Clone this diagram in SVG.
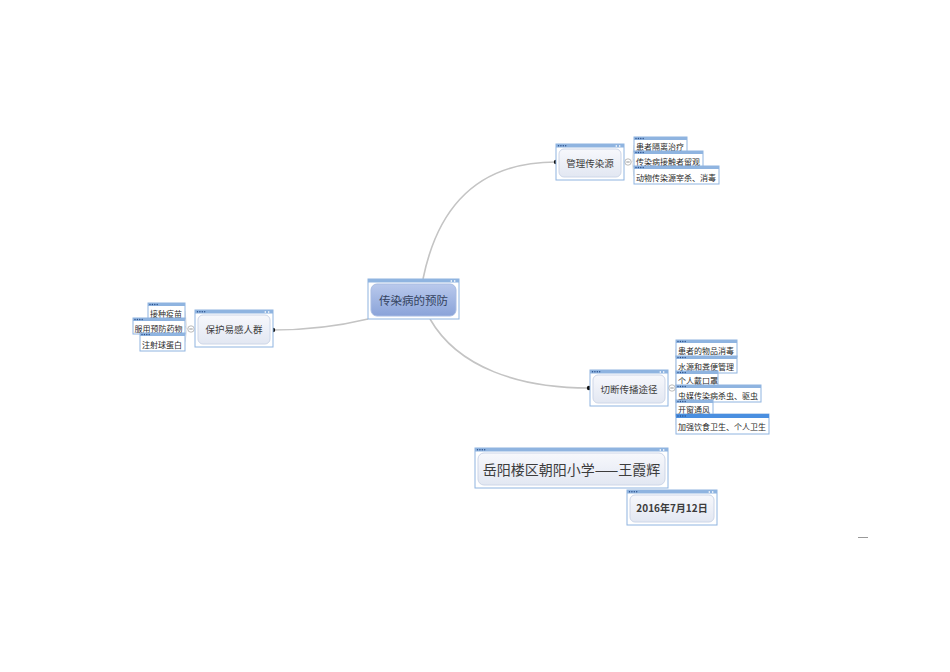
<svg xmlns="http://www.w3.org/2000/svg" width="950" height="672" viewBox="0 0 950 672">
<defs>
<linearGradient id="gMain" x1="0" y1="0" x2="0" y2="1">
<stop offset="0" stop-color="#b9c9ec"/><stop offset="1" stop-color="#8aa3d9"/>
</linearGradient>
<linearGradient id="gSub" x1="0" y1="0" x2="0" y2="1">
<stop offset="0" stop-color="#f7f8fc"/><stop offset="1" stop-color="#e2e7f2"/>
</linearGradient>
<g id="dots"><circle cx="0" cy="0" r="0.7"/><circle cx="2.4" cy="0" r="0.7"/><circle cx="4.8" cy="0" r="0.7"/><circle cx="7.2" cy="0" r="0.7"/></g>
</defs>
<style>
.frame{fill:#ffffff;stroke:#8fb4e0;stroke-width:1}
.bar{fill:#8fb4e0}
.barH{fill:#4a8fe0}
.dots{fill:#2a4f8a}
.arr{fill:#ffffff}
.inMain{fill:url(#gMain);stroke:#a7bbe2;stroke-width:1}
.inSub{fill:url(#gSub);stroke:#cdd6e8;stroke-width:1}
.conn{fill:none;stroke:#c4c4c4;stroke-width:1.6}
.sub{fill:none;stroke:#dddddd;stroke-width:0.8}
.t{font-family:"Noto Sans CJK SC","Liberation Sans",sans-serif;fill:#3c3c3c}
.tm{font-family:"Noto Sans CJK SC","Liberation Sans",sans-serif;fill:#34435f}
.ct{font-family:"Noto Sans CJK SC","Liberation Sans",sans-serif;fill:#2a2a2a;font-size:8px}
.tog{fill:#ffffff;stroke:#aaaaaa;stroke-width:0.8}
</style>
<rect width="950" height="672" fill="#ffffff"/>

<g id="connectors">
<path class="conn" d="M423 279 C438 205 480 162 556 162"/>
<path class="conn" d="M430 319 C458 368 520 388 589 388"/>
<path class="conn" d="M368 319 C335 327 305 330 273 330"/>
<circle cx="556" cy="162" r="2.2" fill="#111"/>
<circle cx="589" cy="388" r="2.2" fill="#111"/>
<circle cx="273" cy="330" r="2.2" fill="#111"/>
<path class="sub" d="M632 162 L634 145 M632 162 L634 159 M632 162 L634 176"/>
<path class="sub" d="M187 329 L185 311 M187 329 L185 326 M187 329 L185 342"/>
<path class="sub" d="M676 388 L676 349 M676 388 L676 365 M676 388 L676 379 M676 388 L676 394 M676 388 L676 408 M676 388 L676 425"/>
<circle class="tog" cx="628" cy="162" r="3.2"/><line x1="626.3" y1="162" x2="629.7" y2="162" stroke="#666" stroke-width="0.7"/>
<circle class="tog" cx="191" cy="329" r="3.2"/><line x1="189.3" y1="329" x2="192.7" y2="329" stroke="#666" stroke-width="0.7"/>
<circle class="tog" cx="672" cy="388" r="3.2"/><line x1="670.3" y1="388" x2="673.7" y2="388" stroke="#666" stroke-width="0.7"/>
</g>

<g id="central">
<rect class="frame" x="368" y="279" width="91" height="40"/>
<rect class="bar" x="368" y="279" width="91" height="3.5"/>
<path class="arr" d="M452 280 L450 281 L452 282Z M454 280 L456 281 L454 282Z"/>
<rect class="inMain" x="371" y="284" width="85" height="32" rx="6"/>
<text class="tm" x="413.5" y="304.5" font-size="11.5" text-anchor="middle">传染病的预防</text>
</g>

<g id="n-manage">
<rect class="frame" x="556" y="144" width="68" height="36"/>
<rect class="bar" x="556" y="144" width="68" height="3.5"/>
<use href="#dots" class="dots" x="558.5" y="145.7"/>
<path class="arr" d="M617 145 L615 146 L617 147Z M619 145 L621 146 L619 147Z"/>
<rect class="inSub" x="559" y="149" width="62" height="28" rx="5"/>
<text class="t" x="590" y="166.5" font-size="9.5" text-anchor="middle">管理传染源</text>
</g>

<g id="n-protect">
<rect class="frame" x="195" y="310" width="78" height="37"/>
<rect class="bar" x="195" y="310" width="78" height="3.5"/>
<use href="#dots" class="dots" x="197.5" y="311.7"/>
<path class="arr" d="M266 311 L264 312 L266 313Z M268 311 L270 312 L268 313Z"/>
<rect class="inSub" x="198" y="315" width="72" height="29" rx="5"/>
<text class="t" x="234" y="333" font-size="9.5" text-anchor="middle">保护易感人群</text>
</g>

<g id="n-cut">
<rect class="frame" x="590" y="370" width="78" height="36"/>
<rect class="bar" x="590" y="370" width="78" height="3.5"/>
<use href="#dots" class="dots" x="592.5" y="371.7"/>
<path class="arr" d="M661 371 L659 372 L661 373Z M663 371 L665 372 L663 373Z"/>
<rect class="inSub" x="593" y="375" width="72" height="28" rx="5"/>
<text class="t" x="629" y="392.5" font-size="9.5" text-anchor="middle">切断传播途径</text>
</g>

<g id="n-author">
<rect class="frame" x="475" y="448" width="193" height="40"/>
<rect class="bar" x="475" y="448" width="193" height="3.5"/>
<use href="#dots" class="dots" x="477.5" y="449.7"/>
<path class="arr" d="M661 449 L659 450 L661 451Z M663 449 L665 450 L663 451Z"/>
<rect class="inSub" x="478" y="453" width="187" height="32" rx="6"/>
<text class="t" x="571.5" y="474.5" font-size="14" text-anchor="middle">岳阳楼区朝阳小学——王霞辉</text>
</g>

<g id="n-date">
<rect class="frame" x="627" y="490" width="90" height="35"/>
<rect class="bar" x="627" y="490" width="90" height="3.5"/>
<use href="#dots" class="dots" x="629.5" y="491.7"/>
<path class="arr" d="M710 491 L708 492 L710 493Z M712 491 L714 492 L712 493Z"/>
<rect class="inSub" x="630" y="495" width="84" height="27" rx="5"/>
<text class="t" x="672" y="512" font-size="10" font-weight="bold" text-anchor="middle">2016年7月12日</text>
</g>

<g id="c-1"><rect class="frame" x="634" y="137" width="53" height="15"/><rect class="bar" x="634" y="137" width="53" height="3"/><use href="#dots" class="dots" x="636" y="138.5"/><text class="ct" x="636" y="149.5">患者隔离治疗</text></g>
<g id="c-2"><rect class="frame" x="634" y="151" width="69" height="16"/><rect class="bar" x="634" y="151" width="69" height="3"/><use href="#dots" class="dots" x="636" y="152.5"/><text class="ct" x="636" y="164.5">传染病接触者留观</text></g>
<g id="c-3"><rect class="frame" x="634" y="166" width="85" height="18"/><rect class="bar" x="634" y="166" width="85" height="3"/><use href="#dots" class="dots" x="636" y="167.5"/><text class="ct" x="636" y="180.5">动物传染源宰杀、消毒</text></g>

<g id="l-1"><rect class="frame" x="148" y="303" width="37" height="16"/><rect class="bar" x="148" y="303" width="37" height="3"/><use href="#dots" class="dots" x="150" y="304.5"/><text class="ct" x="150" y="316.5">接种疫苗</text></g>
<g id="l-2"><rect class="frame" x="133" y="318" width="52" height="16"/><rect class="bar" x="133" y="318" width="52" height="3"/><use href="#dots" class="dots" x="135" y="319.5"/><text class="ct" x="134.5" y="331.5">服用预防药物</text></g>
<g id="l-3"><rect class="frame" x="140" y="333" width="45" height="18"/><rect class="bar" x="140" y="333" width="45" height="3"/><use href="#dots" class="dots" x="142" y="334.5"/><text class="ct" x="142" y="347.5">注射球蛋白</text></g>

<g id="r-1"><rect class="frame" x="676" y="340" width="61" height="17"/><rect class="bar" x="676" y="340" width="61" height="3"/><use href="#dots" class="dots" x="678" y="341.5"/><text class="ct" x="678" y="353.5">患者的物品消毒</text></g>
<g id="r-2"><rect class="frame" x="676" y="356" width="61" height="17"/><rect class="bar" x="676" y="356" width="61" height="3"/><use href="#dots" class="dots" x="678" y="357.5"/><text class="ct" x="678" y="369.5">水源和粪便管理</text></g>
<g id="r-3"><rect class="frame" x="676" y="371" width="42" height="15"/><rect class="bar" x="676" y="371" width="42" height="3"/><use href="#dots" class="dots" x="678" y="372.5"/><text class="ct" x="678" y="383.5">个人戴口罩</text></g>
<g id="r-4"><rect class="frame" x="676" y="385" width="85" height="17"/><rect class="bar" x="676" y="385" width="85" height="3"/><use href="#dots" class="dots" x="678" y="386.5"/><text class="ct" x="678" y="398.5">虫媒传染病杀虫、驱虫</text></g>
<g id="r-5"><rect class="frame" x="676" y="400" width="37" height="16"/><rect class="bar" x="676" y="400" width="37" height="3"/><use href="#dots" class="dots" x="678" y="401.5"/><text class="ct" x="678" y="413">开窗通风</text></g>
<g id="r-6"><rect class="frame" x="676" y="414" width="93" height="20"/><rect class="barH" x="676" y="414" width="93" height="4"/><use href="#dots" class="dots" x="678" y="416"/><text class="ct" x="678" y="430">加强饮食卫生、个人卫生</text></g>

<line x1="858" y1="537.5" x2="868" y2="537.5" stroke="#999" stroke-width="1"/>
</svg>
